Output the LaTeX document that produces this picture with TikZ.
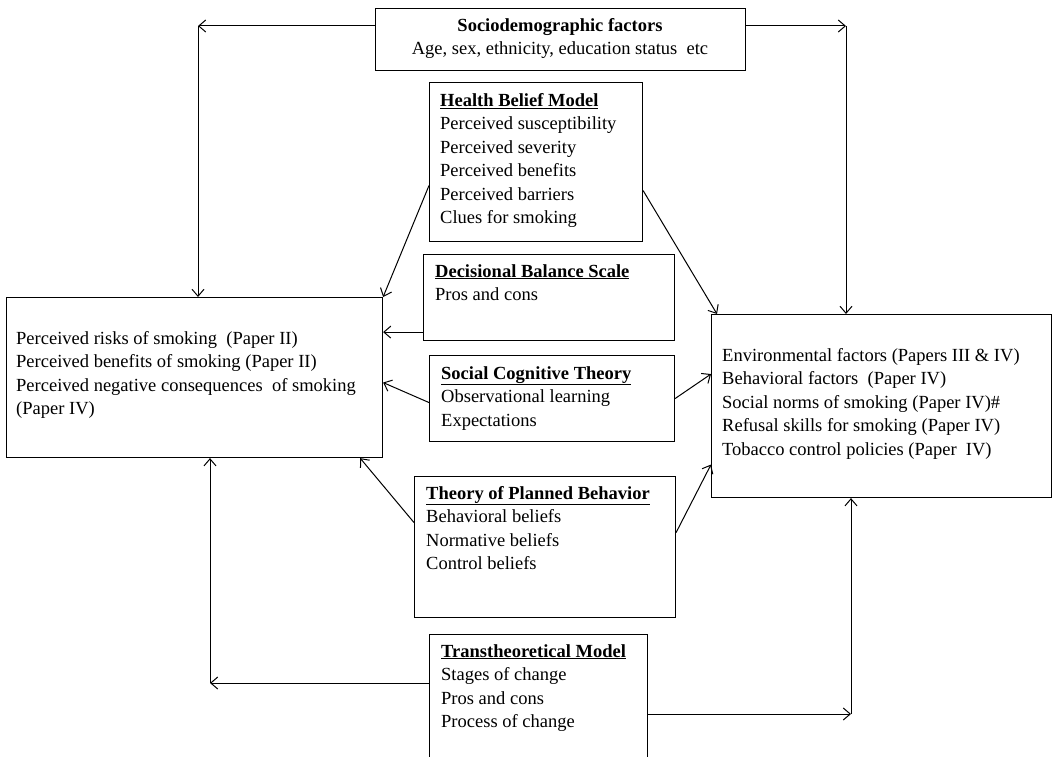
\documentclass[tikz,border=0pt]{standalone}
\usepackage{fontspec}
\setmainfont{Liberation Serif}
\usetikzlibrary{arrows.meta}
\begin{document}
\begin{tikzpicture}[x=1pt,y=-1pt,
  box/.style={draw, line width=1.1pt, inner sep=0pt, anchor=north west},
  txt/.style={inner sep=0pt, anchor=north west, align=left, font=\fontsize{18.5}{23.5}\selectfont},
  arr/.style={-{Straight Barb[length=7pt,width=12pt]}, line width=1pt}]
\clip (0,0) rectangle (1053,757);
\fill[white] (0,0) rectangle (1053,757);
% boxes
\node[box, minimum width=370pt, minimum height=62pt] (socio) at (375,8) {};
\node[box, minimum width=213pt, minimum height=159pt] (hbm) at (429,82) {};
\node[box, minimum width=376.5pt, minimum height=160pt] (left) at (5.5,297) {};
\node[box, minimum width=251pt, minimum height=86pt] (dbs) at (423,254) {};
\node[box, minimum width=245pt, minimum height=86pt] (sct) at (429,355) {};
\node[box, minimum width=261pt, minimum height=141pt] (tpb) at (414,476) {};
\node[box, minimum width=340pt, minimum height=183pt] (right) at (711,314) {};
\node[box, minimum width=218pt, minimum height=150pt] (ttm) at (429,634) {};
% texts
\node[txt, anchor=north, align=center] (sociot) at (560,18) {\textbf{Sociodemographic factors}\\Age, sex, ethnicity, education status\ \ etc};
\node[txt] (hbmt) at (440,93) {\underline{\textbf{Health Belief Model}}\\Perceived susceptibility\\Perceived severity\\Perceived benefits\\Perceived barriers\\Clues for smoking};
\node[txt] (leftt) at (16,331) {Perceived risks of smoking\ \ (Paper II)\\Perceived benefits of smoking (Paper II)\\Perceived negative consequences\ \ of smoking\\(Paper IV)};
\node[txt] (dbst) at (435,264) {\underline{\textbf{Decisional Balance Scale}}\\Pros and cons};
\node[txt] (sctt) at (441,366) {\underline{\textbf{Social Cognitive Theory}}\\Observational learning\\Expectations};
\node[txt] (tpbt) at (426,486) {\underline{\textbf{Theory of Planned Behavior}}\\Behavioral beliefs\\Normative beliefs\\Control beliefs};
\node[txt] (rightt) at (722,348) {Environmental factors (Papers III \& IV)\\Behavioral factors\ \ (Paper IV)\\Social norms of smoking (Paper IV)\#\\Refusal skills for smoking (Paper IV)\\Tobacco control policies (Paper\ \ IV)};
\node[txt] (ttmt) at (441,644) {\underline{\textbf{Transtheoretical Model}}\\Stages of change\\Pros and cons\\Process of change};
% corner coordinates
\coordinate (sl) at (198,26);
\coordinate (sr) at (846,26);
\coordinate (tl) at (210,683);
\coordinate (tr) at (851,714);
\coordinate (d1) at ([yshift=9pt]dbs.south west);
% connectors
\draw[arr] (socio.west |- sl) -- (sl);
\draw[arr] (sl) -- (sl |- left.north);
\draw[arr] (socio.east |- sr) -- (sr);
\draw[arr] (sr) -- (sr |- right.north);
\draw[arr] ([yshift=-23.5pt]hbm.west) -- (left.north east);
\draw[arr] ([yshift=-28.5pt]hbm.east) -- ([xshift=6pt]right.north west);
\draw[arr] (d1) -- (d1 -| left.east);
\draw[arr] ([yshift=-4pt]sct.west) -- ([yshift=-5pt]left.east);
\draw[arr] (sct.east) -- ([yshift=32pt]right.west);
\draw[arr] ([yshift=24.5pt]tpb.west) -- ([xshift=-23pt]left.south east);
\draw[arr] ([yshift=14.5pt]tpb.east) -- ([yshift=-58.5pt]right.west);
\draw[arr] (ttm.west |- tl) -- (tl);
\draw[arr] (tl) -- (tl |- left.south);
\draw[arr] (ttm.east |- tr) -- (tr);
\draw[arr] (tr) -- (tr |- right.south);
\end{tikzpicture}
\end{document}
